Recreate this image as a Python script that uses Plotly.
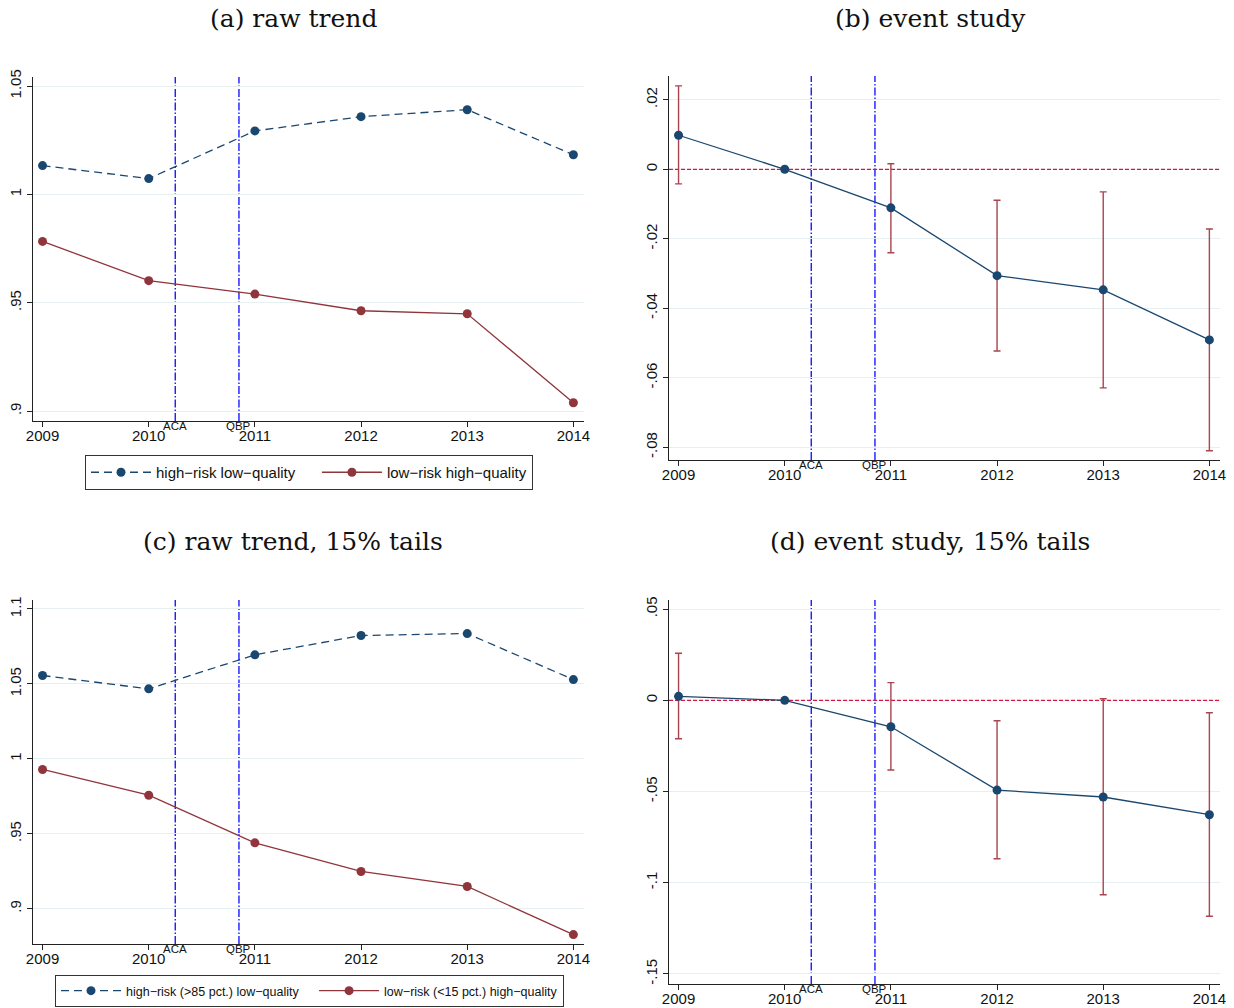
import plotly.graph_objects as go

years = [2009, 2010, 2011, 2012, 2013, 2014]

# (a) raw trend
raw_high_risk_low_q = [1.0133, 1.0073, 1.0293, 1.0359, 1.0391, 1.0183]
raw_low_risk_high_q = [0.9783, 0.9602, 0.9540, 0.9463, 0.9449, 0.9038]

# (b) event study (2010 = reference year, no CI)
es_coef = [0.0098, 0.0, -0.0111, -0.0306, -0.0347, -0.0491]
es_ci_lo = [-0.0042, None, -0.0240, -0.0523, -0.0629, -0.0810]
es_ci_hi = [0.0240, None, 0.0016, -0.0089, -0.0065, -0.0172]

# (c) raw trend, 15% tails
tails_high_risk_low_q = [1.0556, 1.0467, 1.0694, 1.0823, 1.0836, 1.0529]
tails_low_risk_high_q = [0.9929, 0.9757, 0.9439, 0.9248, 0.9148, 0.8827]

# (d) event study, 15% tails
tails_coef = [0.0022, 0.0, -0.0145, -0.0492, -0.0530, -0.0627]
tails_ci_lo = [-0.0211, None, -0.0382, -0.0868, -0.1066, -0.1184]
tails_ci_hi = [0.0258, None, 0.0097, -0.0112, 0.0009, -0.0068]

policy_dates = [2010.25, 2010.85]
policy_labels = ["ACA", "QBP"]

titles = ["(a) raw trend", "(b) event study",
          "(c) raw trend, 15% tails", "(d) event study, 15% tails"]

ticks_a = [0.9, 0.95, 1.0, 1.05]
ticklabels_a = [".9", ".95", "1", "1.05"]
ticks_b = [-0.08, -0.06, -0.04, -0.02, 0.0, 0.02]
ticklabels_b = ["-.08", "-.06", "-.04", "-.02", "0", ".02"]
ticks_c = [0.9, 0.95, 1.0, 1.05, 1.1]
ticklabels_c = [".9", ".95", "1", "1.05", "1.1"]
ticks_d = [-0.15, -0.1, -0.05, 0.0, 0.05]
ticklabels_d = ["-.15", "-.1", "-.05", "0", ".05"]

NAVY = "#1a476f"
MAROON = "#90353b"
CI_COLOR = "#a9454e"
VLINE = "#1a1aff"
ZERO = "#d3183f"
AXIS = "#222222"
GRID = "#e6eff1"
SANS = "Liberation Sans, Arial, sans-serif"
SERIF = "DejaVu Serif, serif"
NBSP = "\u00a0"

W, H = 1234, 1008
left_dom = [33 / W, 584 / W]
right_dom = [669 / W, 1220 / W]
xrange_ = [2008.91, 2014.10]

fig = go.Figure()


def add_trend(xa, ya, hi, lo, names, legend):
    fig.add_trace(go.Scatter(
        x=years, y=hi, name=names[0], mode="lines+markers",
        line=dict(color=NAVY, width=1.3, dash="8px,5px"),
        marker=dict(color=NAVY, size=9),
        xaxis=xa, yaxis=ya, legend=legend))
    fig.add_trace(go.Scatter(
        x=years, y=lo, name=names[1], mode="lines+markers",
        line=dict(color=MAROON, width=1.3),
        marker=dict(color=MAROON, size=9),
        xaxis=xa, yaxis=ya, legend=legend))


def add_event(xa, ya, coef, ci_lo, ci_hi):
    # zero reference line across the full x range
    fig.add_trace(go.Scatter(
        x=xrange_, y=[0, 0], mode="lines",
        line=dict(color=ZERO, width=1.3, dash="4px,2px"),
        xaxis=xa, yaxis=ya, showlegend=False, hoverinfo="skip"))
    idx = [i for i in range(len(years)) if ci_lo[i] is not None]
    fig.add_trace(go.Scatter(
        x=[years[i] for i in idx], y=[coef[i] for i in idx],
        mode="markers", marker=dict(size=0.1, color="rgba(0,0,0,0)"),
        error_y=dict(type="data", symmetric=False,
                     array=[ci_hi[i] - coef[i] for i in idx],
                     arrayminus=[coef[i] - ci_lo[i] for i in idx],
                     color=CI_COLOR, thickness=1.4, width=3.5),
        xaxis=xa, yaxis=ya, showlegend=False, hoverinfo="skip"))
    fig.add_trace(go.Scatter(
        x=years, y=coef, mode="lines+markers",
        line=dict(color=NAVY, width=1.3),
        marker=dict(color=NAVY, size=9),
        xaxis=xa, yaxis=ya, showlegend=False))


add_trend("x", "y", raw_high_risk_low_q, raw_low_risk_high_q,
          ["high\u2212risk low\u2212quality" + NBSP * 4,
           "low\u2212risk high\u2212quality"], "legend")
add_event("x2", "y2", es_coef, es_ci_lo, es_ci_hi)
add_trend("x3", "y3", tails_high_risk_low_q, tails_low_risk_high_q,
          ["high\u2212risk (>85 pct.) low\u2212quality" + NBSP * 3,
           "low\u2212risk (<15 pct.) high\u2212quality"], "legend2")
add_event("x4", "y4", tails_coef, tails_ci_lo, tails_ci_hi)


def xaxis(domain, anchor):
    return dict(domain=domain, anchor=anchor, range=xrange_,
                tickvals=years, ticktext=[str(y) for y in years],
                showline=True, linecolor=AXIS, linewidth=1,
                ticks="outside", ticklen=5, tickcolor=AXIS, tickwidth=1,
                ticklabelstandoff=-4,
                showgrid=False, zeroline=False, automargin=False,
                tickfont=dict(family=SANS, size=15, color="#111111"))


def yaxis(domain, anchor, rng, vals, labels):
    return dict(domain=domain, anchor=anchor, range=rng,
                tickvals=vals, ticktext=labels, tickangle=-90,
                showline=True, linecolor=AXIS, linewidth=1,
                ticks="outside", ticklen=5, tickcolor=AXIS, tickwidth=1,
                showgrid=True, gridcolor=GRID, gridwidth=1, zeroline=False,
                automargin=False,
                tickfont=dict(family=SANS, size=15, color="#111111"))


shapes = []
annotations = []
panels = [("x", "y"), ("x2", "y2"), ("x3", "y3"), ("x4", "y4")]
for xa, ya in panels:
    for d, lab in zip(policy_dates, policy_labels):
        shapes.append(dict(type="line", xref=xa, yref=ya + " domain",
                           x0=d, x1=d, y0=0, y1=1, layer="below",
                           line=dict(color=VLINE, width=1.4,
                                     dash="8px,2px,1.5px,2px")))
        annotations.append(dict(x=d, y=0, xref=xa, yref=ya + " domain",
                                text=lab, showarrow=False, yanchor="top",
                                yshift=3,
                                font=dict(family=SANS, size=11.5, color="#111111")))

title_pos = [(293, 18), (930, 18), (293, 541), (930, 541)]
for t, (px, py) in zip(titles, title_pos):
    annotations.append(dict(x=px / W, y=1 - py / H, xref="paper", yref="paper",
                            text=t, showarrow=False, xanchor="center",
                            yanchor="middle",
                            font=dict(family=SERIF, size=25, color="#111111")))

fig.update_layout(
    width=W, height=H,
    margin=dict(l=0, r=0, t=0, b=0, autoexpand=False),
    paper_bgcolor="white", plot_bgcolor="white",
    xaxis=xaxis(left_dom, "y"),
    yaxis=yaxis([1 - 421 / H, 1 - 77 / H], "x", [0.8954, 1.0542],
                ticks_a, ticklabels_a),
    xaxis2=xaxis(right_dom, "y2"),
    yaxis2=yaxis([1 - 460 / H, 1 - 76 / H], "x2", [-0.08366, 0.02685],
                 ticks_b, ticklabels_b),
    xaxis3=xaxis(left_dom, "y3"),
    yaxis3=yaxis([1 - 944 / H, 1 - 600 / H], "x3", [0.8764, 1.106],
                 ticks_c, ticklabels_c),
    xaxis4=xaxis(right_dom, "y4"),
    yaxis4=yaxis([1 - 984 / H, 1 - 600 / H], "x4", [-0.1555, 0.055],
                 ticks_d, ticklabels_d),
    legend=dict(x=85 / W, y=1 - 455 / H, xanchor="left", yanchor="top",
                orientation="h", bordercolor="#333333", borderwidth=1,
                bgcolor="white", itemwidth=60,
                font=dict(family=SANS, size=15, color="#111111")),
    legend2=dict(x=55 / W, y=1 / H, xanchor="left", yanchor="bottom",
                 orientation="h", bordercolor="#333333", borderwidth=1,
                 bgcolor="white", itemwidth=60,
                 font=dict(family=SANS, size=12.5, color="#111111")),
    shapes=shapes,
    annotations=annotations,
)

fig.write_html("out.html")
